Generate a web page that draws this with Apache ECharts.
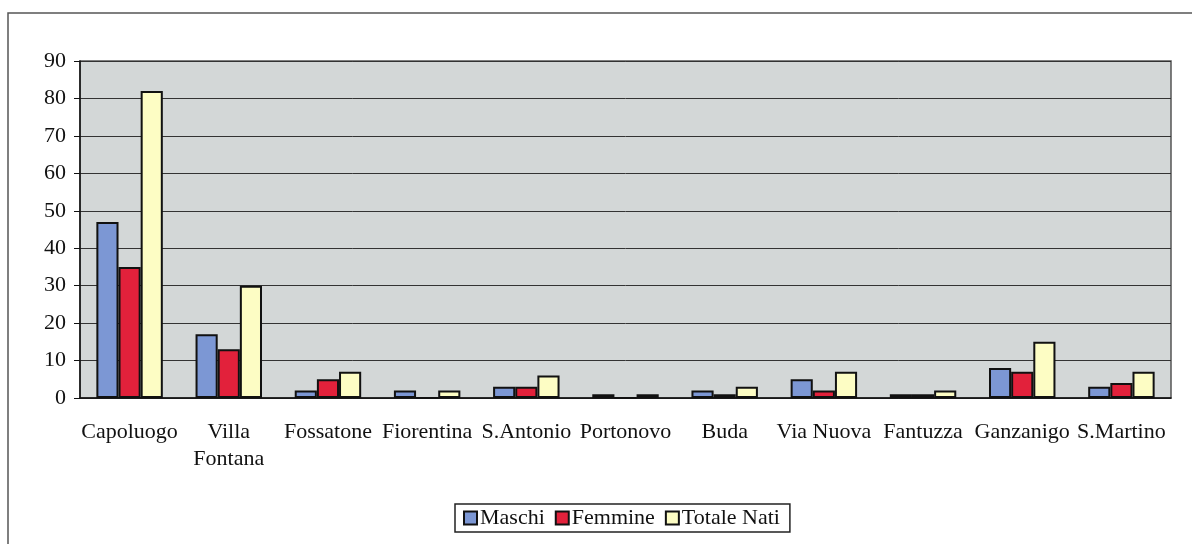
<!DOCTYPE html>
<html>
<head>
<meta charset="utf-8">
<script src="https://cdn.jsdelivr.net/npm/echarts@6/dist/echarts.min.js"></script>
<style>
  html, body { margin: 0; padding: 0; background: #fff; }
  #chart { width: 1192px; height: 544px; }
</style>
</head>
<body>
<div id="chart"></div>
<script>
// dati
const frazioni = ['Capoluogo', 'Villa\nFontana', 'Fossatone', 'Fiorentina', 'S.Antonio',
  'Portonovo', 'Buda', 'Via Nuova', 'Fantuzza', 'Ganzanigo', 'S.Martino'];
const maschi = [47, 17, 2, 2, 3, 1, 2, 5, 1, 8, 3];
const femmine = [35, 13, 5, 0, 3, 0, 1, 2, 1, 7, 4];
const totaleNati = [82, 30, 7, 2, 6, 1, 3, 7, 2, 15, 7];

const font = 'Liberation Serif';
const chart = echarts.init(document.getElementById('chart'));

const bar = (name, data, color) => ({
  name: name,
  type: 'bar',
  data: data,
  barGap: '0%',
  barCategoryGap: '33%',
  itemStyle: { color: color, borderColor: '#111', borderWidth: 2 },
  emphasis: { disabled: true }
});

chart.setOption({
  animation: false,
  textStyle: { fontFamily: font },
  graphic: [{
    type: 'rect',
    shape: { x: 8, y: 13, width: 1200, height: 600 },
    style: { fill: 'none', stroke: '#555', lineWidth: 1.5 },
    silent: true
  }],
  grid: {
    left: 80, right: 21, top: 61, bottom: 146,
    show: true,
    backgroundColor: '#d3d7d7',
    borderColor: '#555',
    borderWidth: 1.5
  },
  legend: {
    bottom: 12,
    left: 455,
    icon: 'rect',
    itemWidth: 13,
    itemHeight: 13,
    itemGap: 10,
    padding: [3, 10, 3, 8],
    borderColor: '#222',
    borderWidth: 1.5,
    textStyle: { fontFamily: font, fontSize: 22, color: '#111', padding: [0, 0, 0, -2] },
    data: ['Maschi', 'Femmine', 'Totale Nati']
  },
  xAxis: {
    type: 'category',
    data: frazioni,
    axisLine: { lineStyle: { color: '#111', width: 1.5 } },
    axisTick: { length: 6, lineStyle: { color: '#111' } },
    axisLabel: { color: '#111', fontFamily: font, fontSize: 22, margin: 21, lineHeight: 27, interval: 0 }
  },
  yAxis: {
    type: 'value',
    min: 0, max: 90, interval: 10,
    axisLine: { show: true, lineStyle: { color: '#111', width: 1.5 } },
    axisTick: { show: true, length: 6, lineStyle: { color: '#111' } },
    axisLabel: { color: '#111', fontFamily: font, fontSize: 22, margin: 14 },
    splitLine: { lineStyle: { color: '#333', width: 1 } }
  },
  series: [
    bar('Maschi', maschi, '#7c97d4'),
    bar('Femmine', femmine, '#e2213b'),
    bar('Totale Nati', totaleNati, '#fdfdc4')
  ]
});
</script>
</body>
</html>
